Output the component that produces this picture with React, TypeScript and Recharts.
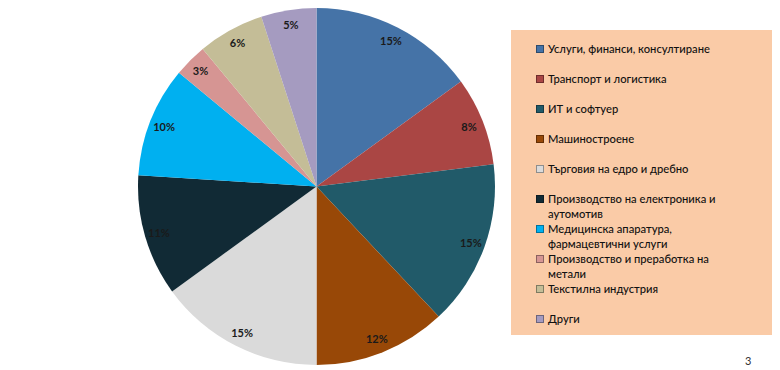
import { PieChart, Pie, Cell, Legend } from "recharts";

const categories = [
  "Услуги, финанси, консултиране",
  "Транспорт и логистика",
  "ИТ и софтуер",
  "Машиностроене",
  "Търговия на едро и дребно",
  "Производство на електроника и аутомотив",
  "Медицинска апаратура, фармацевтични услуги",
  "Производство и преработка на метали",
  "Текстилна индустрия",
  "Други",
];
const shares = [15, 8, 15, 12, 15, 11, 10, 3, 6, 5];
const colors = [
  "#4573A7",
  "#AA4644",
  "#215A69",
  "#984807",
  "#DADADA",
  "#112A35",
  "#00B0F0",
  "#D69593",
  "#C4BD97",
  "#A59BC0",
];

const data = categories.map((name, i) => ({ name, value: shares[i], color: colors[i] }));

const FONT = "Lato, 'Open Sans', sans-serif";
const RAD = Math.PI / 180;

function renderLabel(props: any) {
  const { cx, cy, midAngle, value } = props;
  const r = 164;
  const x = cx + r * Math.cos(-midAngle * RAD);
  const y = cy + r * Math.sin(-midAngle * RAD);
  return (
    <text
      x={x}
      y={y}
      textAnchor="middle"
      dominantBaseline="central"
      fontFamily={FONT}
      fontSize={11}
      fontWeight={700}
      fill="#1a1a1a"
    >
      {`${value}%`}
    </text>
  );
}

// legend box drawn by hand so rows keep the fixed 30px pitch of the original
function LegendBox() {
  return (
    <div
      style={{
        width: 262,
        height: 305,
        background: "#FACBA7",
        position: "relative",
        fontFamily: FONT,
        fontSize: 11.2,
        fontWeight: 500,
        color: "#111",
      }}
    >
      {data.map((d, i) => (
        <div
          key={d.name}
          style={{
            position: "absolute",
            left: 25,
            top: 11 + i * 30,
            width: 200,
            display: "flex",
            alignItems: "flex-start",
            lineHeight: "15px",
          }}
        >
          <span
            style={{
              display: "inline-block",
              width: 6,
              height: 6,
              marginTop: 4,
              marginRight: 4,
              flex: "none",
              background: d.color,
              border: "0.5px solid rgba(0,0,0,0.35)",
            }}
          />
          <span style={{ width: 172 }}>{d.name}</span>
        </div>
      ))}
    </div>
  );
}

export default function App() {
  return (
    <div style={{ position: "relative", width: 772, height: 362 }}>
      <PieChart width={772} height={362} margin={{ top: 0, right: 0, bottom: 0, left: 0 }}>
        <Pie
          data={data}
          dataKey="value"
          nameKey="name"
          cx={308.5}
          cy={178.5}
          outerRadius={178.5}
          startAngle={90}
          endAngle={-270}
          stroke="none"
          labelLine={false}
          label={renderLabel}
          isAnimationActive={false}
        >
          {data.map((d) => (
            <Cell key={d.name} fill={d.color} />
          ))}
        </Pie>
        <Legend
          content={() => <LegendBox />}
          wrapperStyle={{ position: "absolute", left: 503, top: 22, width: 262, height: 305 }}
        />
      </PieChart>
      <div
        style={{
          position: "absolute",
          left: 737,
          top: 346,
          fontFamily: FONT,
          fontSize: 11,
          color: "#333",
        }}
      >
        3
      </div>
    </div>
  );
}
